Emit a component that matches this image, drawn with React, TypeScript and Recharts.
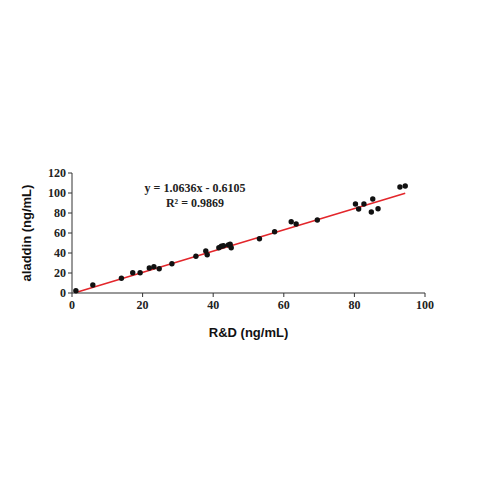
import { ScatterChart, Scatter, XAxis, YAxis, ReferenceLine } from 'recharts';

// R&D measurements (x) vs aladdin measurements (y), ng/mL
const rdValues = [
  1.1, 5.9, 14.0, 17.2, 19.3, 21.9, 23.2, 24.7, 28.3, 35.1, 37.9, 38.3, 41.6, 42.3, 42.9, 44.3,
  44.8, 45.1, 53.1, 57.4, 62.1, 63.5, 69.5, 80.3, 81.2, 82.7, 84.8, 85.2, 86.7, 92.9, 94.4,
];
const aladdinValues = [
  2.3, 8.0, 14.7, 20.3, 20.3, 25.0, 26.3, 24.3, 29.3, 36.7, 42.0, 38.3, 45.3, 46.7, 47.3, 48.0,
  48.7, 45.3, 54.3, 61.3, 71.3, 69.0, 73.0, 89.0, 84.0, 89.0, 81.0, 94.0, 84.3, 106.0, 107.0,
];
const xTicks = [0, 20, 40, 60, 80, 100];
const yTicks = [0, 20, 40, 60, 80, 100, 120];
const slope = 1.0636;
const intercept = -0.6105;
const rSquared = 0.9869;

const points = rdValues.map((x, i) => ({ x, y: aladdinValues[i] }));
const xMin = Math.min(...rdValues);
const xMax = Math.max(...rdValues);

const serif = '"Liberation Serif", "Times New Roman", serif';
const sans = '"Liberation Sans", Arial, sans-serif';
const titleStyle = { fontFamily: sans, fontSize: 13, fontWeight: 'bold', fill: '#111' };

const Dot = (props: any) => <circle cx={props.cx} cy={props.cy} r={2.7} fill="#111" />;

// rotated y-axis title, centred on the axis
const YTitle = (props: any) => {
  const { viewBox } = props;
  const cx = viewBox.x + 14;
  const cy = viewBox.y + viewBox.height / 2;
  return (
    <text x={cx} y={cy} transform={`rotate(-90 ${cx} ${cy})`} textAnchor="middle" dominantBaseline="central" style={titleStyle}>
      aladdin (ng/mL)
    </text>
  );
};

export default function App() {
  const tickStyle = { fontFamily: serif, fontSize: 12, fontWeight: 'bold', fill: '#222' };
  return (
    <div style={{ position: 'absolute', left: 0, top: 0, width: 479, height: 479, background: '#fff' }}>
      <ScatterChart width={479} height={479} margin={{ top: 173, right: 54, bottom: 146, left: 12 }}>
        <XAxis
          type="number"
          dataKey="x"
          domain={[0, 100]}
          ticks={xTicks}
          stroke="#333"
          tickSize={4}
          tick={tickStyle}
          tickMargin={3}
          height={40}
          label={{ value: 'R&D (ng/mL)', position: 'insideBottom', offset: -4, style: titleStyle }}
        />
        <YAxis
          type="number"
          dataKey="y"
          domain={[0, 120]}
          ticks={yTicks}
          stroke="#333"
          tickSize={4}
          tick={tickStyle}
          tickMargin={2}
          width={60}
          label={<YTitle />}
        />
        <ReferenceLine
          segment={[
            { x: xMin, y: slope * xMin + intercept },
            { x: xMax, y: slope * xMax + intercept },
          ]}
          stroke="#e3262b"
          strokeWidth={1.6}
          ifOverflow="visible"
        />
        <Scatter data={points} shape={<Dot />} isAnimationActive={false} />
      </ScatterChart>
      <div
        style={{
          position: 'absolute',
          left: 95,
          top: 181,
          width: 200,
          textAlign: 'center',
          fontFamily: serif,
          fontSize: 12,
          fontWeight: 'bold',
          lineHeight: '15px',
          color: '#222',
        }}
      >
        <div>y = {slope}x - {Math.abs(intercept)}</div>
        <div>R² = {rSquared}</div>
      </div>
    </div>
  );
}
